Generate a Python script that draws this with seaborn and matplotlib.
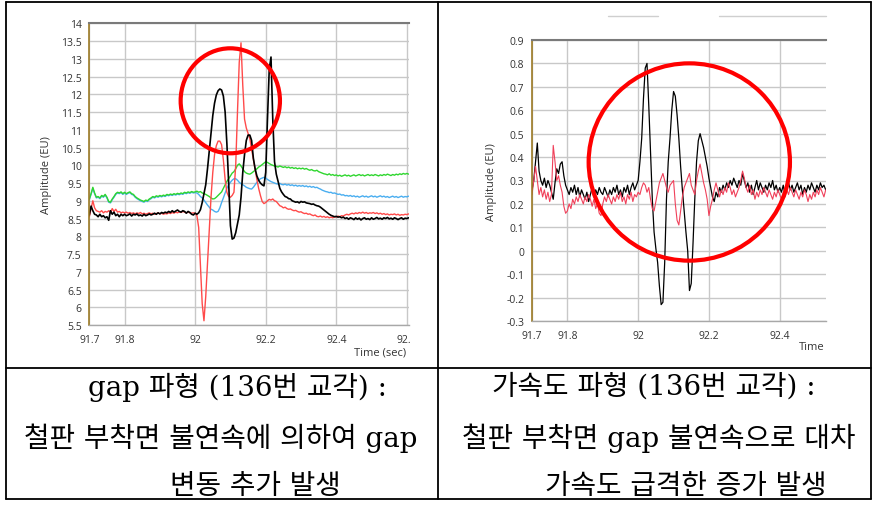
import numpy as np
import matplotlib
matplotlib.use("Agg")
import matplotlib.pyplot as plt
import seaborn as sns
from matplotlib.patches import Ellipse
from matplotlib.lines import Line2D
from matplotlib.transforms import Bbox

# ---------------- data ----------------
GAP_T0, GAP_DT = 91.70, 0.005
ACC_T0, ACC_DT = 91.70, 0.005

gap_black = [
    8.60, 8.85, 8.72, 8.62, 8.60, 8.55, 8.62, 8.55, 8.58, 8.52, 8.55, 8.45, 8.72, 8.62, 8.68, 8.58, 8.62, 8.55, 8.62, 8.58,
    8.62, 8.58, 8.60, 8.63, 8.57, 8.62, 8.60, 8.63, 8.58, 8.60, 8.57, 8.62, 8.58, 8.60, 8.63, 8.60, 8.62, 8.65, 8.62, 8.66,
    8.63, 8.67, 8.65, 8.68, 8.66, 8.70, 8.67, 8.72, 8.68, 8.71, 8.74, 8.70, 8.68, 8.72, 8.70, 8.65, 8.70, 8.67, 8.62, 8.60,
    8.65, 8.62, 8.66, 8.75, 8.95, 9.20, 9.45, 9.90, 10.40, 10.90, 11.40, 11.75, 11.98, 12.10, 12.15, 12.12, 11.95, 11.50, 10.60, 9.50,
    8.30, 7.92, 7.95, 8.10, 8.35, 8.60, 9.10, 9.80, 10.30, 10.70, 10.85, 10.85, 10.70, 10.20, 9.90, 9.70, 9.58, 9.50, 9.45, 9.42,
    9.80, 11.30, 12.70, 13.05, 11.30, 10.10, 9.75, 9.55, 9.35, 9.25, 9.18, 9.12, 9.10, 9.06, 9.05, 9.00, 8.98, 8.96, 8.97, 8.94,
    8.98, 8.96, 8.97, 8.94, 8.93, 8.92, 8.90, 8.91, 8.88, 8.86, 8.85, 8.82, 8.78, 8.74, 8.70, 8.66, 8.62, 8.59, 8.57, 8.55,
    8.56, 8.54, 8.55, 8.52, 8.54, 8.50, 8.52, 8.48, 8.52, 8.50, 8.47, 8.52, 8.48, 8.51, 8.46, 8.50, 8.52, 8.48, 8.50, 8.47,
    8.52, 8.48, 8.50, 8.53, 8.49, 8.51, 8.48, 8.52, 8.50, 8.53, 8.49, 8.51, 8.48, 8.52, 8.50, 8.47, 8.50, 8.52, 8.48, 8.51,
    8.50, 8.52,
]
gap_red = [
    8.55, 8.78, 9.00, 8.80, 8.72, 8.70, 8.68, 8.72, 8.66, 8.70, 8.68, 8.72, 8.66, 8.78, 8.70, 8.76, 8.68, 8.70, 8.66, 8.68,
    8.66, 8.68, 8.65, 8.67, 8.64, 8.66, 8.63, 8.66, 8.64, 8.67, 8.63, 8.65, 8.62, 8.64, 8.66, 8.63, 8.65, 8.62, 8.64, 8.66,
    8.63, 8.65, 8.62, 8.64, 8.63, 8.66, 8.64, 8.67, 8.65, 8.68, 8.66, 8.69, 8.67, 8.70, 8.68, 8.66, 8.68, 8.66, 8.65, 8.66,
    8.65, 8.58, 8.25, 7.20, 6.10, 5.62, 6.30, 7.25, 8.20, 9.10, 9.80, 10.30, 10.55, 10.68, 10.68, 10.58, 10.15, 9.60, 9.24, 9.12,
    9.10, 9.15, 9.24, 10.00, 11.50, 12.90, 13.45, 12.25, 11.30, 11.05, 10.90, 10.75, 10.45, 10.17, 9.90, 9.60, 9.35, 9.15, 8.98, 8.92,
    8.95, 9.00, 9.04, 9.02, 9.05, 9.00, 8.98, 8.92, 8.86, 8.84, 8.80, 8.82, 8.78, 8.76, 8.77, 8.74, 8.72, 8.73, 8.70, 8.68,
    8.69, 8.66, 8.64, 8.65, 8.62, 8.63, 8.60, 8.58, 8.60, 8.56, 8.55, 8.57, 8.54, 8.56, 8.53, 8.55, 8.52, 8.54, 8.52, 8.55,
    8.54, 8.57, 8.55, 8.58, 8.57, 8.60, 8.62, 8.60, 8.63, 8.65, 8.63, 8.66, 8.64, 8.67, 8.65, 8.68, 8.65, 8.67, 8.64, 8.66,
    8.65, 8.67, 8.64, 8.66, 8.63, 8.65, 8.62, 8.64, 8.61, 8.63, 8.60, 8.62, 8.61, 8.63, 8.60, 8.62, 8.59, 8.61, 8.60, 8.62,
    8.61, 8.63,
]
gap_green = [
    9.05, 9.20, 9.38, 9.22, 9.10, 9.12, 9.08, 9.15, 9.12, 9.18, 9.10, 8.98, 8.96, 9.05, 9.12, 9.20, 9.24, 9.22, 9.25, 9.20,
    9.24, 9.20, 9.23, 9.25, 9.20, 9.18, 9.12, 9.08, 9.05, 9.02, 9.00, 8.98, 9.02, 9.00, 9.05, 9.08, 9.12, 9.10, 9.14, 9.12,
    9.15, 9.13, 9.16, 9.14, 9.18, 9.16, 9.19, 9.17, 9.20, 9.18, 9.21, 9.19, 9.22, 9.20, 9.24, 9.22, 9.25, 9.23, 9.26, 9.24,
    9.25, 9.27, 9.24, 9.26, 9.22, 9.20, 9.18, 9.15, 9.12, 9.08, 9.05, 9.06, 9.10, 9.15, 9.20, 9.25, 9.35, 9.45, 9.55, 9.62,
    9.70, 9.78, 9.82, 9.90, 10.00, 10.04, 9.98, 9.90, 9.82, 9.78, 9.76, 9.75, 9.78, 9.82, 9.86, 9.90, 9.95, 9.98, 10.02, 10.06,
    10.10, 10.08, 10.05, 10.02, 10.00, 9.98, 9.97, 9.95, 9.98, 9.96, 9.94, 9.96, 9.93, 9.95, 9.92, 9.94, 9.91, 9.93, 9.90, 9.92,
    9.90, 9.92, 9.89, 9.91, 9.88, 9.86, 9.88, 9.85, 9.84, 9.86, 9.82, 9.80, 9.78, 9.76, 9.75, 9.73, 9.76, 9.72, 9.74, 9.71,
    9.73, 9.70, 9.72, 9.69, 9.71, 9.73, 9.70, 9.72, 9.69, 9.71, 9.73, 9.70, 9.72, 9.74, 9.71, 9.73, 9.70, 9.72, 9.74, 9.71,
    9.73, 9.71, 9.74, 9.72, 9.70, 9.73, 9.71, 9.74, 9.72, 9.75, 9.73, 9.71, 9.74, 9.72, 9.75, 9.73, 9.76, 9.74, 9.77, 9.75,
    9.77, 9.75,
]
gap_blue = [
    9.03, 9.18, 9.35, 9.20, 9.08, 9.10, 9.06, 9.13, 9.10, 9.16, 9.08, 8.96, 8.94, 9.03, 9.10, 9.18, 9.22, 9.20, 9.23, 9.18,
    9.22, 9.18, 9.21, 9.23, 9.18, 9.16, 9.10, 9.06, 9.03, 9.00, 8.98, 8.96, 9.00, 8.98, 9.03, 9.06, 9.10, 9.08, 9.12, 9.10,
    9.13, 9.11, 9.14, 9.12, 9.16, 9.14, 9.17, 9.15, 9.18, 9.16, 9.19, 9.17, 9.20, 9.18, 9.22, 9.20, 9.23, 9.21, 9.24, 9.22,
    9.23, 9.22, 9.18, 9.12, 9.08, 9.02, 8.95, 8.88, 8.82, 8.76, 8.74, 8.70, 8.68, 8.70, 8.80, 8.95, 9.08, 9.22, 9.35, 9.45,
    9.52, 9.58, 9.62, 9.62, 9.58, 9.52, 9.48, 9.45, 9.42, 9.38, 9.36, 9.34, 9.33, 9.38, 9.45, 9.52, 9.58, 9.62, 9.64, 9.66,
    9.64, 9.60, 9.57, 9.54, 9.52, 9.50, 9.48, 9.47, 9.49, 9.46, 9.45, 9.47, 9.44, 9.46, 9.43, 9.45, 9.42, 9.44, 9.41, 9.43,
    9.41, 9.43, 9.40, 9.42, 9.39, 9.41, 9.38, 9.40, 9.37, 9.38, 9.35, 9.33, 9.30, 9.28, 9.26, 9.25, 9.23, 9.24, 9.21, 9.22,
    9.20, 9.18, 9.19, 9.16, 9.17, 9.14, 9.15, 9.13, 9.15, 9.12, 9.14, 9.11, 9.13, 9.10, 9.12, 9.14, 9.11, 9.13, 9.10, 9.12,
    9.14, 9.11, 9.13, 9.10, 9.12, 9.14, 9.11, 9.13, 9.10, 9.12, 9.09, 9.11, 9.13, 9.10, 9.12, 9.09, 9.11, 9.13, 9.10, 9.12,
    9.11, 9.13,
]
acc_black = [
    0.26, 0.30, 0.38, 0.46, 0.34, 0.30, 0.28, 0.31, 0.27, 0.30, 0.28, 0.25, 0.22, 0.29, 0.35, 0.33, 0.37, 0.38, 0.32, 0.28,
    0.26, 0.24, 0.27, 0.25, 0.28, 0.24, 0.27, 0.23, 0.26, 0.24, 0.22, 0.25, 0.21, 0.24, 0.27, 0.23, 0.26, 0.24, 0.27, 0.25,
    0.24, 0.27, 0.25, 0.23, 0.26, 0.24, 0.27, 0.25, 0.28, 0.24, 0.26, 0.23, 0.27, 0.25, 0.28, 0.24, 0.27, 0.29, 0.26, 0.28,
    0.30, 0.38, 0.48, 0.65, 0.78, 0.80, 0.62, 0.42, 0.22, 0.08, 0.01, -0.05, -0.15, -0.23, -0.22, -0.05, 0.22, 0.38, 0.48, 0.60,
    0.68, 0.66, 0.58, 0.48, 0.36, 0.26, 0.17, 0.08, 0.00, -0.17, -0.14, 0.03, 0.22, 0.38, 0.47, 0.50, 0.47, 0.44, 0.40, 0.36,
    0.31, 0.27, 0.23, 0.21, 0.25, 0.23, 0.27, 0.25, 0.28, 0.26, 0.29, 0.27, 0.30, 0.28, 0.31, 0.29, 0.27, 0.30, 0.28, 0.33,
    0.30, 0.27, 0.29, 0.25, 0.28, 0.24, 0.27, 0.30, 0.26, 0.29, 0.27, 0.25, 0.28, 0.26, 0.29, 0.27, 0.30, 0.26, 0.28, 0.25,
    0.27, 0.25, 0.28, 0.24, 0.27, 0.29, 0.26, 0.28, 0.25, 0.27, 0.29, 0.26, 0.28, 0.24, 0.27, 0.25, 0.28, 0.26, 0.29, 0.27,
    0.25, 0.28, 0.26, 0.29, 0.27, 0.28, 0.26,
]
acc_red = [
    0.24, 0.30, 0.36, 0.30, 0.24, 0.27, 0.23, 0.26, 0.22, 0.25, 0.21, 0.24, 0.45, 0.38, 0.30, 0.32, 0.28, 0.25, 0.19, 0.16,
    0.17, 0.20, 0.18, 0.22, 0.20, 0.23, 0.21, 0.24, 0.22, 0.20, 0.23, 0.21, 0.24, 0.22, 0.19, 0.22, 0.18, 0.20, 0.16, 0.15,
    0.20, 0.23, 0.21, 0.24, 0.22, 0.20, 0.23, 0.21, 0.24, 0.22, 0.25, 0.21, 0.23, 0.20, 0.24, 0.22, 0.25, 0.21, 0.24, 0.23,
    0.25, 0.24, 0.27, 0.29, 0.28, 0.25, 0.27, 0.22, 0.18, 0.17, 0.21, 0.25, 0.29, 0.31, 0.33, 0.30, 0.27, 0.25, 0.28, 0.29,
    0.30, 0.20, 0.13, 0.11, 0.17, 0.23, 0.27, 0.29, 0.31, 0.33, 0.28, 0.26, 0.24, 0.30, 0.34, 0.37, 0.33, 0.29, 0.26, 0.22,
    0.15, 0.19, 0.22, 0.26, 0.29, 0.26, 0.23, 0.26, 0.24, 0.27, 0.25, 0.29, 0.27, 0.24, 0.26, 0.23, 0.25, 0.27, 0.30, 0.34,
    0.31, 0.27, 0.25, 0.28, 0.24, 0.26, 0.22, 0.25, 0.23, 0.26, 0.24, 0.27, 0.25, 0.23, 0.26, 0.24, 0.22, 0.25, 0.23, 0.26,
    0.24, 0.22, 0.25, 0.23, 0.26, 0.24, 0.27, 0.25, 0.23, 0.26, 0.24, 0.22, 0.25, 0.23, 0.26, 0.24, 0.21, 0.24, 0.22, 0.25,
    0.23, 0.26, 0.24, 0.27, 0.25, 0.23, 0.26,
]

gap_xticks = [91.7, 91.8, 92.0, 92.2, 92.4, 92.6]
gap_xticklabels = ["91.7", "91.8", "92", "92.2", "92.4", "92.6"]
gap_yticks = [5.5, 6, 6.5, 7, 7.5, 8, 8.5, 9, 9.5, 10, 10.5, 11, 11.5, 12, 12.5, 13, 13.5, 14]
gap_yticklabels = ["5.5", "6", "6.5", "7", "7.5", "8", "8.5", "9", "9.5", "10", "10.5", "11",
                   "11.5", "12", "12.5", "13", "13.5", "14"]
acc_xticks = [91.7, 91.8, 92.0, 92.2, 92.4]
acc_xticklabels = ["91.7", "91.8", "92", "92.2", "92.4"]
acc_yticks = [-0.3, -0.2, -0.1, 0.0, 0.1, 0.2, 0.3, 0.4, 0.5, 0.6, 0.7, 0.8, 0.9]
acc_yticklabels = ["-0.3", "-0.2", "-0.1", "0", "0.1", "0.2", "0.3", "0.4", "0.5", "0.6", "0.7", "0.8", "0.9"]

captions_left = ["gap 파형 (136번 교각) :", "철판 부착면 불연속에 의하여 gap", "변동 추가 발생"]
captions_right = ["가속도 파형 (136번 교각) :", "철판 부착면 gap 불연속으로 대차", "가속도 급격한 증가 발생"]

# ---------------- styling ----------------
sns.set_theme(style="white")
plt.rcParams["font.family"] = ["Open Sans", "DejaVu Sans"]
W, H = 885, 510
fig = plt.figure(figsize=(W / 100, H / 100), dpi=100)
fig.patch.set_facecolor("white")


def fx(px):
    return px / W


def fy(py):
    return 1 - py / H


def make_axes(l, t, r, b):
    return fig.add_axes([fx(l), fy(b), (r - l) / W, (b - t) / H])


def style_axes(ax):
    ax.set_facecolor("white")
    ax.grid(True, color="#c8c8c8", lw=1.0)
    ax.set_axisbelow(True)
    ax.spines["right"].set_visible(False)
    ax.spines["top"].set_visible(True)
    ax.spines["top"].set_color("#7a7a7a")
    ax.spines["top"].set_linewidth(1.5)
    ax.spines["left"].set_color("#9c7a25")
    ax.spines["left"].set_linewidth(1.2)
    ax.spines["bottom"].set_color("#a8a8a8")
    ax.spines["bottom"].set_linewidth(1.0)
    ax.tick_params(axis="both", direction="out", length=4, width=0.8, color="#666666",
                   labelsize=7.5, labelcolor="#333333", pad=1.5)
    ax.tick_params(axis="x", pad=2.5)


# ---- left chart (gap) ----
ax1 = make_axes(89.3, 24.3, 409.3, 326.0)
t_gap = np.round(GAP_T0 + GAP_DT * np.arange(len(gap_black)), 4)
sns.lineplot(x=t_gap[:len(gap_blue)], y=gap_blue, ax=ax1, color="#4aaef0", lw=1.0, legend=False)
sns.lineplot(x=t_gap[:len(gap_green)], y=gap_green, ax=ax1, color="#2fd62f", lw=1.0, legend=False)
sns.lineplot(x=t_gap[:len(gap_red)], y=gap_red, ax=ax1, color="#ff4a4a", lw=1.0, legend=False)
sns.lineplot(x=t_gap, y=gap_black, ax=ax1, color="#000000", lw=1.2, legend=False)
ax1.set_xlim(91.7, 92.607)
ax1.set_ylim(5.5, 14)
ax1.set_xticks(gap_xticks)
ax1.set_xticklabels(gap_xticklabels)
ax1.set_yticks(gap_yticks)
ax1.set_yticklabels(gap_yticklabels)
style_axes(ax1)
ax1.set_ylabel("Amplitude (EU)", fontsize=8, color="#333333")
ax1.yaxis.set_label_coords(-0.1166, 0.5)
ax1.set_xlabel("Time (sec)", fontsize=8, color="#333333", ha="right", va="center")
ax1.xaxis.set_label_coords(0.99, -0.0895)
clip = Bbox.from_extents(0, 0, 410, H)
for lbl in ax1.get_xticklabels():
    lbl.set_clip_box(clip)
    lbl.set_clip_on(True)

# ---- right chart (acceleration) ----
ax2 = make_axes(532.0, 41.0, 825.7, 322.0)
t_acc = np.round(ACC_T0 + ACC_DT * np.arange(len(acc_black)), 4)
sns.lineplot(x=t_acc, y=acc_black, ax=ax2, color="#000000", lw=0.9, legend=False)
sns.lineplot(x=t_acc[:len(acc_red)], y=acc_red, ax=ax2, color="#f0405a", lw=0.8, legend=False)
ax2.set_xlim(91.7, 92.53)
ax2.set_ylim(-0.3, 0.9)
ax2.set_xticks(acc_xticks)
ax2.set_xticklabels(acc_xticklabels)
ax2.set_yticks(acc_yticks)
ax2.set_yticklabels(acc_yticklabels)
style_axes(ax2)
ax2.set_ylabel("Amplitude (EU)", fontsize=8, color="#333333")
ax2.yaxis.set_label_coords(-0.119, 0.498)
ax2.set_xlabel("Time", fontsize=8, color="#333333", ha="right", va="center")
ax2.xaxis.set_label_coords(0.9976, -0.0925)

# ---- red circles ----
fig.add_artist(Ellipse((fx(230.3), fy(101.8)), width=99.3 / W, height=105.0 / H,
                       transform=fig.transFigure, fill=False, ec="#ff0000", lw=3.0, zorder=5))
fig.add_artist(Ellipse((fx(689.3), fy(163.0)), width=201.3 / W, height=197.3 / H,
                       transform=fig.transFigure, fill=False, ec="#ff0000", lw=3.0, zorder=5))

# ---- faint gray marks at top of right cell ----
for x0, x1 in [(608, 658), (719, 826)]:
    fig.add_artist(Line2D([fx(x0), fx(x1)], [fy(17), fy(17)], transform=fig.transFigure,
                          color="#cfcfcf", lw=1.0))

# ---- table borders ----
tbl = dict(transform=fig.transFigure, color="black", lw=1.3, zorder=6)
L, R, T, B, M, V = 6, 871, 3, 500, 369, 438
for (xa, ya, xb, yb) in [(L, T, R, T), (L, B, R, B), (L, M, R, M),
                         (L, T, L, B), (R, T, R, B), (V, T, V, B)]:
    fig.add_artist(Line2D([fx(xa), fx(xb)], [fy(ya), fy(yb)], **tbl))

# ---- captions (serif Latin, Korean from Noto CJK) ----
cap_family = ["DejaVu Serif", "Noto Sans CJK KR"]
cap_y = [387, 438, 487]
left_x = [88, 24, 170]
right_x = [492, 462, 545]
for txt, x, y in zip(captions_left, left_x, cap_y):
    fig.text(fx(x), fy(y), txt, family=cap_family, fontsize=20, ha="left", va="center", color="black")
for txt, x, y in zip(captions_right, right_x, cap_y):
    fig.text(fx(x), fy(y), txt, family=cap_family, fontsize=20, ha="left", va="center", color="black")

fig.savefig("out.png", dpi=100, facecolor="white")
